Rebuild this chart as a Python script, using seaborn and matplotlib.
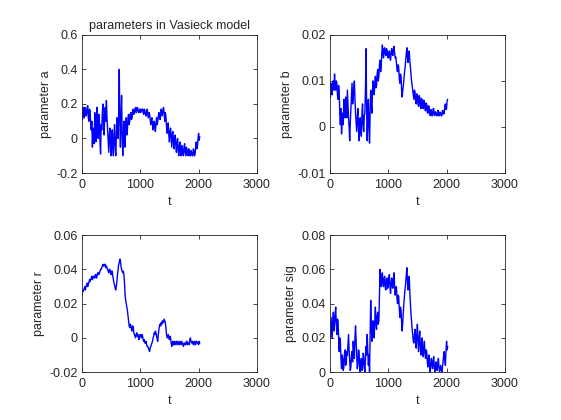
import matplotlib
matplotlib.use("Agg")
import matplotlib.pyplot as plt
import seaborn as sns

# time axis (one sample read every 10 steps)
t = list(range(0, 2021, 10))

param_a = [0.15, 0.11, 0.18, 0.14, 0.12, 0.18, 0.17, 0.13, 0.14, 0.18,
           0.19, 0.12, 0.10, 0.17, 0.16, 0.08, 0.05, 0.10, -0.05, 0.06,
           0.02, -0.03, 0.15, 0.05, -0.02, 0.12, 0.18, 0.04, 0.00, 0.14,
           0.10, -0.02, -0.09, 0.08, 0.05, 0.15, 0.20, 0.08, 0.02, 0.12,
           0.18, 0.10, 0.22, 0.12, 0.05, -0.02, -0.08, 0.02, 0.06, -0.04,
           -0.10, 0.00, 0.05, -0.06, -0.10, 0.03, 0.08, -0.04, -0.10, 0.02,
           0.12, 0.05, 0.00, 0.15, 0.40, 0.10, -0.05, 0.12, 0.25, 0.02,
           -0.10, 0.00, 0.10, -0.02, -0.05, 0.08, 0.12, 0.02, 0.05, 0.12,
           0.14, 0.08, 0.10, 0.14, 0.15, 0.11, 0.12, 0.16, 0.17, 0.14,
           0.15, 0.17, 0.18, 0.15, 0.16, 0.18, 0.17, 0.15, 0.15, 0.17,
           0.17, 0.15, 0.16, 0.17, 0.17, 0.15, 0.14, 0.17, 0.16, 0.14,
           0.13, 0.16, 0.17, 0.14, 0.12, 0.15, 0.14, 0.11, 0.08, 0.11,
           0.12, 0.08, 0.05, 0.09, 0.10, 0.06, 0.04, 0.09, 0.12, 0.08,
           0.10, 0.13, 0.15, 0.12, 0.11, 0.15, 0.17, 0.13, 0.14, 0.17,
           0.18, 0.14, 0.10, 0.15, 0.13, 0.07, 0.03, 0.08, 0.09, 0.02,
           -0.02, 0.04, 0.06, 0.00, -0.05, 0.03, 0.04, -0.03, -0.06, 0.01,
           0.02, -0.04, -0.08, -0.02, 0.00, -0.07, -0.10, -0.04, -0.02, -0.08,
           -0.10, -0.04, -0.05, -0.09, -0.10, -0.05, -0.03, -0.08, -0.10, -0.05,
           -0.06, -0.09, -0.10, -0.06, -0.07, -0.10, -0.10, -0.07, -0.08, -0.10,
           -0.10, -0.06, -0.07, -0.10, -0.09, -0.05, -0.02, -0.06, -0.05, 0.00,
           0.03, -0.01, 0.01]

param_b = [0.0080, 0.0065, 0.0095, 0.0075, 0.0070, 0.0098, 0.0100, 0.0080, 0.0115, 0.0090,
           0.0080, 0.0100, 0.0095, 0.0070, 0.0060, 0.0090, 0.0075, 0.0030, 0.0005, 0.0040,
           -0.0015, 0.0010, 0.0030, 0.0005, 0.0060, 0.0035, 0.0020, 0.0065, 0.0050, 0.0020,
           0.0080, 0.0050, 0.0020, 0.0000, -0.0030, 0.0010, 0.0040, 0.0070, 0.0095, 0.0050,
           0.0060, 0.0085, 0.0100, 0.0060, 0.0030, 0.0010, -0.0010, 0.0020, 0.0040, 0.0000,
           -0.0030, 0.0010, 0.0020, -0.0010, -0.0020, 0.0030, 0.0050, 0.0005, -0.0010, 0.0025,
           0.0030, 0.0080, 0.0170, 0.0040, -0.0030, 0.0020, 0.0060, 0.0000, -0.0035, 0.0030,
           0.0080, 0.0050, 0.0030, 0.0075, 0.0100, 0.0080, 0.0070, 0.0095, 0.0110, 0.0085,
           0.0090, 0.0115, 0.0125, 0.0100, 0.0110, 0.0135, 0.0145, 0.0120, 0.0130, 0.0160,
           0.0178, 0.0160, 0.0150, 0.0170, 0.0172, 0.0158, 0.0155, 0.0170, 0.0168, 0.0152,
           0.0150, 0.0162, 0.0165, 0.0150, 0.0145, 0.0162, 0.0170, 0.0158, 0.0155, 0.0170,
           0.0175, 0.0160, 0.0150, 0.0152, 0.0140, 0.0125, 0.0120, 0.0135, 0.0130, 0.0105,
           0.0095, 0.0115, 0.0110, 0.0080, 0.0065, 0.0080, 0.0090, 0.0105, 0.0120, 0.0130,
           0.0145, 0.0160, 0.0172, 0.0150, 0.0140, 0.0160, 0.0165, 0.0145, 0.0130, 0.0115,
           0.0100, 0.0090, 0.0080, 0.0070, 0.0060, 0.0080, 0.0075, 0.0055, 0.0050, 0.0072,
           0.0070, 0.0050, 0.0045, 0.0068, 0.0065, 0.0045, 0.0040, 0.0062, 0.0060, 0.0042,
           0.0040, 0.0058, 0.0055, 0.0038, 0.0035, 0.0052, 0.0050, 0.0032, 0.0030, 0.0046,
           0.0045, 0.0028, 0.0025, 0.0038, 0.0035, 0.0024, 0.0025, 0.0040, 0.0040, 0.0026,
           0.0025, 0.0033, 0.0030, 0.0024, 0.0025, 0.0036, 0.0035, 0.0024, 0.0025, 0.0032,
           0.0030, 0.0024, 0.0025, 0.0036, 0.0035, 0.0028, 0.0030, 0.0045, 0.0050, 0.0038,
           0.0040, 0.0058, 0.0060]

param_r = [0.025, 0.027, 0.027, 0.028, 0.029, 0.030, 0.028, 0.030, 0.031, 0.032,
           0.030, 0.032, 0.032, 0.034, 0.033, 0.034, 0.035, 0.036, 0.034, 0.036,
           0.036, 0.035, 0.035, 0.037, 0.037, 0.035, 0.036, 0.038, 0.038, 0.037,
           0.038, 0.039, 0.040, 0.040, 0.041, 0.042, 0.043, 0.042, 0.042, 0.043,
           0.043, 0.041, 0.042, 0.041, 0.040, 0.039, 0.038, 0.040, 0.040, 0.038,
           0.037, 0.039, 0.039, 0.036, 0.034, 0.032, 0.031, 0.029, 0.028, 0.030,
           0.033, 0.037, 0.040, 0.043, 0.044, 0.046, 0.045, 0.042, 0.040, 0.039,
           0.038, 0.039, 0.037, 0.032, 0.025, 0.022, 0.020, 0.018, 0.016, 0.013,
           0.010, 0.007, 0.006, 0.008, 0.007, 0.005, 0.004, 0.007, 0.006, 0.003,
           0.002, 0.001, 0.000, 0.002, 0.003, 0.001, 0.002, 0.000, -0.001, 0.001,
           0.002, 0.001, 0.000, 0.002, 0.001, -0.001, -0.002, -0.001, -0.003, -0.003,
           -0.002, -0.004, -0.005, -0.005, -0.006, -0.007, -0.008, -0.006, -0.005, -0.004,
           -0.003, -0.002, 0.000, 0.001, 0.003, 0.002, 0.004, 0.003, 0.001, -0.001,
           -0.002, 0.002, 0.005, 0.007, 0.008, 0.007, 0.009, 0.008, 0.010, 0.009,
           0.009, 0.011, 0.010, 0.009, 0.006, 0.002, 0.000, 0.001, 0.002, 0.000,
           -0.001, 0.001, 0.000, -0.003, -0.005, -0.003, -0.002, -0.004, -0.004, -0.002,
           -0.003, -0.004, -0.002, -0.003, -0.004, -0.002, -0.003, -0.004, -0.002, -0.003,
           -0.004, -0.002, -0.003, -0.004, -0.005, -0.003, -0.003, -0.004, -0.004, -0.002,
           -0.002, -0.004, -0.003, -0.003, -0.004, -0.001, 0.000, -0.002, -0.003, -0.003,
           -0.002, -0.004, -0.004, -0.002, -0.003, -0.004, -0.002, -0.002, -0.003, -0.003,
           -0.004, -0.002, -0.003]

param_sig = [0.025, 0.020, 0.032, 0.026, 0.020, 0.030, 0.035, 0.024, 0.028, 0.034,
             0.038, 0.028, 0.022, 0.031, 0.030, 0.020, 0.012, 0.020, 0.018, 0.008,
             0.002, 0.010, 0.008, 0.001, 0.003, 0.011, 0.013, 0.004, 0.005, 0.012,
             0.010, 0.016, 0.022, 0.012, 0.006, 0.001, 0.003, 0.010, 0.012, 0.006,
             0.018, 0.012, 0.008, 0.020, 0.027, 0.018, 0.010, 0.002, 0.004, 0.013,
             0.012, 0.004, 0.000, 0.006, 0.008, 0.001, 0.002, 0.011, 0.010, 0.003,
             0.000, 0.008, 0.015, 0.010, 0.022, 0.012, 0.004, 0.010, 0.000, 0.020,
             0.042, 0.028, 0.018, 0.026, 0.030, 0.022, 0.020, 0.030, 0.038, 0.028,
             0.025, 0.033, 0.035, 0.028, 0.030, 0.045, 0.060, 0.052, 0.050, 0.056,
             0.058, 0.051, 0.050, 0.055, 0.056, 0.049, 0.048, 0.054, 0.055, 0.049,
             0.050, 0.055, 0.057, 0.050, 0.046, 0.052, 0.055, 0.050, 0.049, 0.054,
             0.058, 0.050, 0.045, 0.049, 0.050, 0.043, 0.040, 0.045, 0.044, 0.037,
             0.032, 0.038, 0.036, 0.029, 0.024, 0.030, 0.035, 0.041, 0.045, 0.049,
             0.052, 0.057, 0.061, 0.053, 0.048, 0.054, 0.056, 0.047, 0.040, 0.034,
             0.030, 0.025, 0.022, 0.018, 0.017, 0.022, 0.025, 0.018, 0.014, 0.022,
             0.028, 0.019, 0.012, 0.019, 0.024, 0.016, 0.010, 0.016, 0.020, 0.013,
             0.009, 0.014, 0.018, 0.011, 0.008, 0.013, 0.012, 0.006, 0.003, 0.008,
             0.010, 0.004, 0.000, 0.005, 0.008, 0.004, 0.002, 0.007, 0.009, 0.003,
             0.000, 0.004, 0.006, 0.002, 0.001, 0.005, 0.008, 0.003, 0.000, 0.002,
             0.004, 0.001, 0.000, 0.003, 0.006, 0.010, 0.012, 0.007, 0.004, 0.012,
             0.018, 0.013, 0.015]

ylabels = ["parameter a", "parameter b", "parameter r", "parameter sig"]
ylims = [(-0.2, 0.6), (-0.01, 0.02), (-0.02, 0.06), (0, 0.08)]
yticks = [[-0.2, 0, 0.2, 0.4, 0.6], [-0.01, 0, 0.01, 0.02],
          [-0.02, 0, 0.02, 0.04, 0.06], [0, 0.02, 0.04, 0.06, 0.08]]
yticklabels = [["-0.2", "0", "0.2", "0.4", "0.6"], ["-0.01", "0", "0.01", "0.02"],
               ["-0.02", "0", "0.02", "0.04", "0.06"], ["0", "0.02", "0.04", "0.06", "0.08"]]

sns.set_style("ticks", {"xtick.direction": "in", "ytick.direction": "in"})
plt.rcParams["font.family"] = ["Liberation Sans", "DejaVu Sans"]
plt.rcParams["font.size"] = 9

fig = plt.figure(figsize=(5.61, 4.2), dpi=100)
# matlab-ish subplot boxes
boxes = [[0.146, 0.588, 0.312, 0.329], [0.588, 0.588, 0.312, 0.329],
         [0.146, 0.114, 0.312, 0.326], [0.588, 0.114, 0.312, 0.326]]

for i, series in enumerate([param_a, param_b, param_r, param_sig]):
    ax = fig.add_axes(boxes[i])
    sns.lineplot(x=t, y=series, ax=ax, color="#0000ff", linewidth=1.0)
    ax.set_xlim(0, 3000)
    ax.set_ylim(*ylims[i])
    ax.set_xticks([0, 1000, 2000, 3000])
    ax.set_xticklabels(["0", "1000", "2000", "3000"])
    ax.set_yticks(yticks[i])
    ax.set_yticklabels(yticklabels[i])
    ax.tick_params(top=True, right=True, length=3, width=0.6, labelsize=9)
    ax.tick_params(axis="x", pad=4)
    ax.tick_params(axis="y", pad=3)
    for s in ax.spines.values():
        s.set_linewidth(0.6)
        s.set_visible(True)
    ax.set_xlabel("t", fontsize=9, labelpad=4)
    ax.set_ylabel(ylabels[i], fontsize=9, labelpad=3)
    if i == 0:
        ax.set_title("parameters in Vasieck model", fontsize=9, pad=4)

fig.savefig("out.png", dpi=100, facecolor="white")
